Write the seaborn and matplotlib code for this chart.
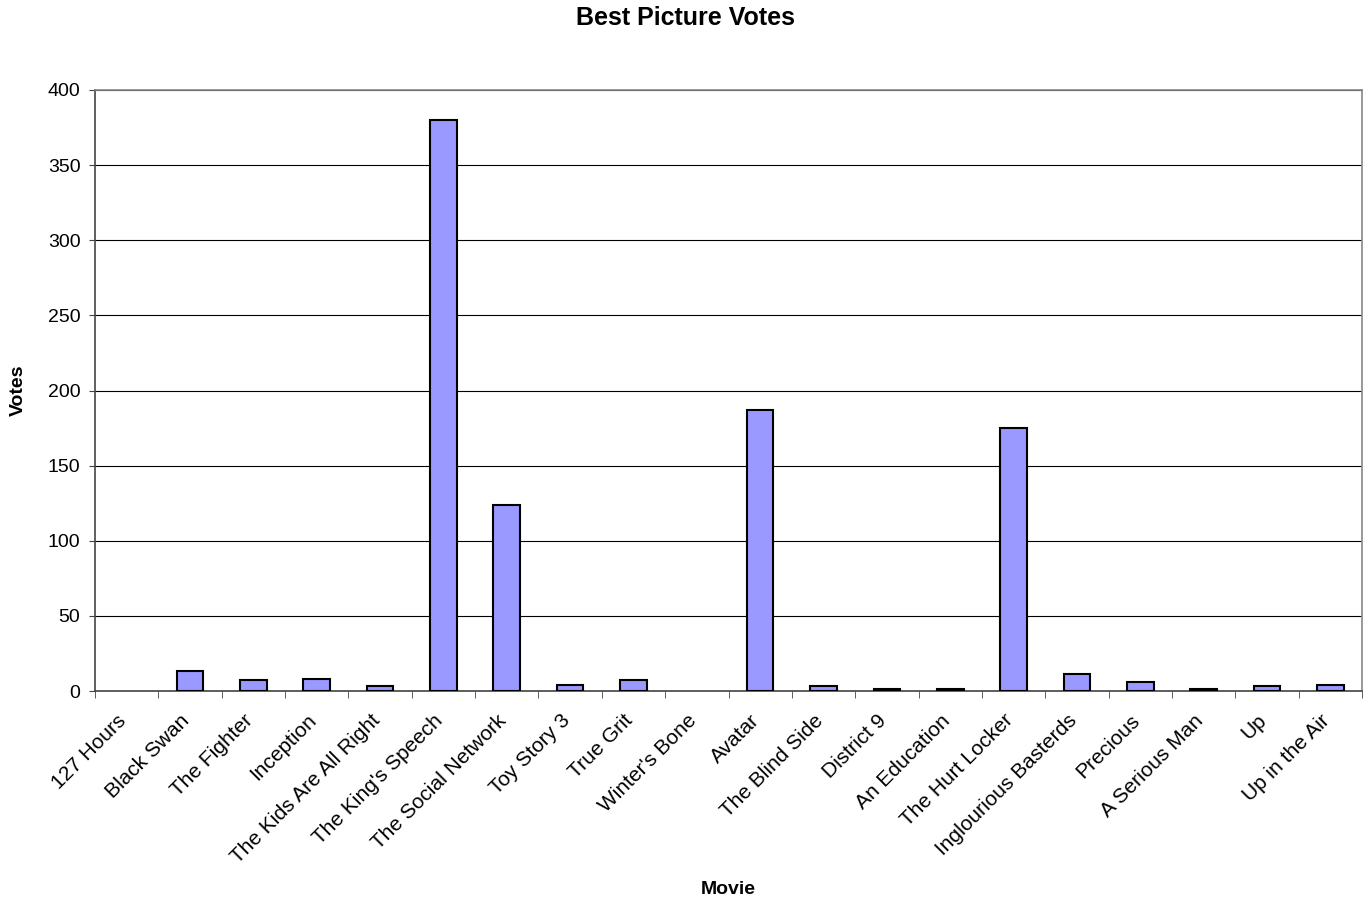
import matplotlib
matplotlib.use("Agg")
import matplotlib.pyplot as plt
import matplotlib.transforms as mtransforms
import seaborn as sns
import pandas as pd
import numpy as np
from matplotlib.ticker import FixedLocator

movies = ["127 Hours", "Black Swan", "The Fighter", "Inception", "The Kids Are All Right",
          "The King's Speech", "The Social Network", "Toy Story 3", "True Grit", "Winter's Bone",
          "Avatar", "The Blind Side", "District 9", "An Education", "The Hurt Locker",
          "Inglourious Basterds", "Precious", "A Serious Man", "Up", "Up in the Air"]
votes = [0, 13, 7, 8, 3, 380, 124, 4, 7, 0, 187, 3, 1, 1, 175, 11, 6, 1, 3, 4]
y_ticks = [0, 50, 100, 150, 200, 250, 300, 350, 400]

df = pd.DataFrame({"Movie": movies, "Votes": votes})

sns.set_style("white")
plt.rcParams['font.family'] = ['Liberation Sans', 'DejaVu Sans']
plt.rcParams['text.color'] = 'black'
plt.rcParams['axes.labelcolor'] = 'black'
plt.rcParams['xtick.color'] = 'black'
plt.rcParams['ytick.color'] = 'black'

fig = plt.figure(figsize=(13.72, 9.0), dpi=100)
ax = fig.add_axes([95/1372, 1-691/900, (1362-95)/1372, (691-90)/900])

sns.barplot(data=df, x="Movie", y="Votes", color="#9999FF", edgecolor="black",
            linewidth=1.5, width=0.42, saturation=1, ax=ax, zorder=3)

# zero-height bars are not drawn in the reference
for p in ax.patches:
    if p.get_height() == 0:
        p.set_visible(False)

ax.set_ylim(0, 400)
ax.set_xlim(-0.5, len(movies) - 0.5)
ax.set_yticks(y_ticks)
ax.yaxis.grid(True, color="black", linewidth=0.8, zorder=0)
ax.set_axisbelow(True)
ax.tick_params(axis="y", which="major", direction="out", length=4, color="#444444",
               labelsize=14, left=True, pad=6.5, labelcolor="black")

ax.set_xticks(range(len(movies)))
ax.set_xticklabels(movies, rotation=45, ha="right", rotation_mode="anchor", fontsize=15,
                   color="black")
ax.tick_params(axis="x", which="major", length=0, pad=10)
ax.xaxis.set_minor_locator(FixedLocator(np.arange(-0.5, len(movies), 1.0)))
ax.tick_params(axis="x", which="minor", direction="out", length=5, color="#444444", bottom=True)

offset = mtransforms.ScaledTranslation(-10/100, -6/100, fig.dpi_scale_trans)
for lbl in ax.get_xticklabels():
    lbl.set_transform(lbl.get_transform() + offset)

for s in ["top", "right"]:
    ax.spines[s].set_color("#888888")
    ax.spines[s].set_linewidth(1.2)
for s in ["left", "bottom"]:
    ax.spines[s].set_color("#444444")
    ax.spines[s].set_linewidth(1.2)

ax.set_xlabel("Movie", fontsize=14, fontweight="bold", va="center")
ax.xaxis.set_label_coords(0.5, -(889.5 - 691) / 601)
ax.set_ylabel("Votes", fontsize=14, fontweight="bold", va="center")
ax.yaxis.set_label_coords(-(95 - 18) / 1267, 0.5)
fig.suptitle("Best Picture Votes", fontsize=18, fontweight="bold", y=1 - 18/900, va="center")

fig.savefig("out.png", dpi=100)
